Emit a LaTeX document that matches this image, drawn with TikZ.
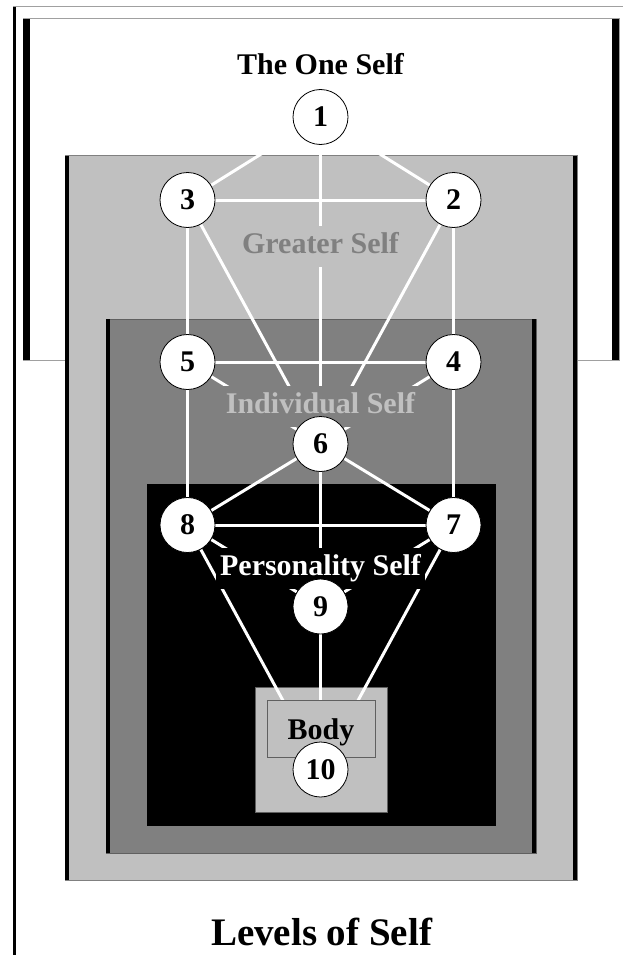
\documentclass[tikz,border=0pt]{standalone}
\usepackage{fontspec}
\setmainfont{Liberation Serif}
\definecolor{lg}{HTML}{C0C0C0}
\definecolor{dg}{HTML}{808080}
\definecolor{fr}{HTML}{A0A0A0}
\definecolor{ol}{HTML}{606060}
\pgfdeclarelayer{bg}
\pgfdeclarelayer{edges}
\pgfdeclarelayer{masks}
\pgfsetlayers{bg,edges,masks,main}
\tikzset{
  nd/.style={circle, draw=black, line width=0.8pt, fill=white, minimum size=55pt, inner sep=0pt,
    font=\bfseries\fontsize{30}{30}\selectfont},
  edge/.style={white, line width=3pt},
  lbl/.style={anchor=base, font=\bfseries\fontsize{30}{30}\selectfont, text height=20.5pt,
    text depth=6.5pt, inner xsep=4pt, inner ysep=7pt},
  title/.style={anchor=base, font=\bfseries\fontsize{30}{30}\selectfont},
  bigtitle/.style={anchor=base, font=\bfseries\fontsize{39}{39}\selectfont},
  sidebar/.style={black}
}
\begin{document}
\begin{tikzpicture}[x=1pt,y=-1pt]
\useasboundingbox (0,0) rectangle (623,955);
\begin{pgfonlayer}{bg}
  % outer frame
  \draw[fr, line width=1pt] (13,7) -- (623,7);
  \draw[sidebar, line width=3pt] (14.5,7) -- (14.5,955);
  % white box
  \draw[fr, fill=white, line width=1pt] (23,19) rectangle (619,360);
  \draw[sidebar, line width=7pt] (26.5,19) -- (26.5,360);
  \draw[sidebar, line width=7pt] (615.5,19) -- (615.5,360);
  % light gray box
  \draw[dg, fill=lg, line width=1pt] (65,155.5) rectangle (577,880);
  \draw[sidebar, line width=4pt] (67,155.5) -- (67,880);
  \draw[sidebar, line width=4pt] (575,155.5) -- (575,880);
  % dark gray box
  \draw[ol, fill=dg, line width=1pt] (106,319) rectangle (536,853);
  \draw[sidebar, line width=4pt] (108,319) -- (108,853);
  \draw[sidebar, line width=4pt] (534,319) -- (534,853);
  % black box
  \fill[black] (147,483.5) rectangle (495.5,826);
  % body box
  \draw[ol, fill=lg, line width=0.8pt] (255,687) rectangle (387,812);
\end{pgfonlayer}

% sefirot
\node[nd] (n1) at (320.5,117) {1};
\node[nd] (n2) at (453.5,200) {2};
\node[nd] (n3) at (187.5,200) {3};
\node[nd] (n4) at (453.5,362) {4};
\node[nd] (n5) at (187.5,362) {5};
\node[nd] (n6) at (320.5,444) {6};
\node[nd] (n7) at (453.5,525) {7};
\node[nd] (n8) at (187.5,525) {8};
\node[nd] (n9) at (320.5,606.5) {9};
\node[nd] (n10) at (320.5,769.5) {10};

\begin{pgfonlayer}{edges}
  \foreach \a/\b in {1/2,1/3,1/6,2/3,2/4,2/6,3/5,3/6,4/5,4/6,4/7,5/6,5/8,6/7,6/8,6/9,7/8,7/9,7/10,8/9,8/10,9/10}
    \draw[edge] (n\a) -- (n\b);
\end{pgfonlayer}

\begin{pgfonlayer}{masks}
  \node[lbl, fill=lg, text=dg] (greater) at (320.5,253) {Greater Self};
  \node[lbl, fill=dg, text=lg] (individual) at (320.5,413) {Individual Self};
  \node[lbl, fill=black, text=white] (personality) at (320.5,575) {Personality Self};
  \node[draw=ol, fill=lg, line width=0.8pt, minimum width=108pt, minimum height=57pt, inner sep=0pt]
    (bodybox) at (321,728.5) {};
  \node[title] (body) at (321,739) {Body};
\end{pgfonlayer}

\node[title] (one) at (320.5,75) {The One Self};
\node[bigtitle] (levels) at (321.5,945) {Levels of Self};
\end{tikzpicture}
\end{document}
